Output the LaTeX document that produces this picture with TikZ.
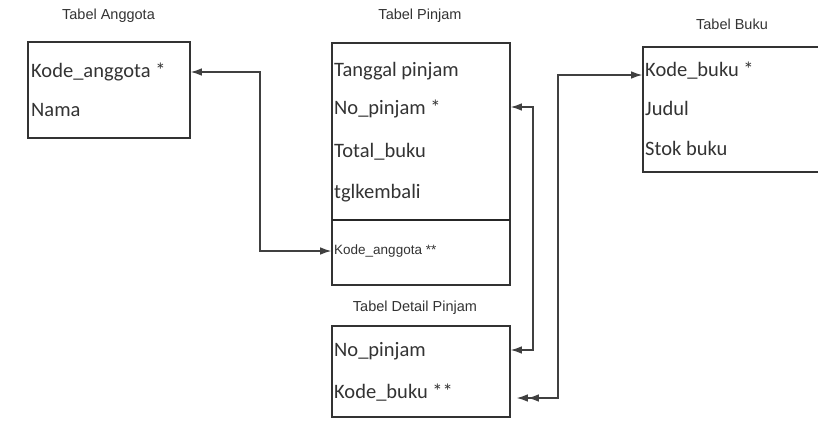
\documentclass[tikz,border=0pt]{standalone}
\usepackage{fontspec}
\setmainfont{Carlito}
\newfontfamily\arialf{Liberation Sans}
\usetikzlibrary{arrows.meta}
\begin{document}
\begin{tikzpicture}[x=1pt,y=-1pt,
  tbl/.style={draw=black!80,line width=1.6pt,inner sep=0pt,fill=white},
  row/.style={anchor=west,inner sep=0pt,font=\fontsize{20.5}{24}\selectfont,text=black!80,text height=14pt,text depth=4pt},
  ttl/.style={inner sep=0pt,font=\arialf\fontsize{14.5}{17}\selectfont,text=black!80},
  small/.style={anchor=west,inner sep=0pt,font=\arialf\fontsize{13.5}{16}\selectfont,text=black!80},
  conn/.style={draw=black!75,line width=1.1pt},
  >={Latex[length=11pt,width=7.5pt]},
]
\useasboundingbox (0,0) rectangle (818,426);
% boxes
\node[tbl,minimum width=162pt,minimum height=96pt] (anggota) at (109,90) {};
\node[tbl,minimum width=178pt,minimum height=242pt] (pinjam) at (421,164) {};
\node[tbl,minimum width=187pt,minimum height=125pt] (buku) at (736.5,109.5) {};
\node[tbl,minimum width=178pt,minimum height=91pt] (detail) at (421,371.5) {};
\coordinate (divL) at (332,220);
\coordinate (divR) at (510,220);
\draw[draw=black!85,line width=2.4pt] (divL) -- (divR);
% titles
\node[ttl] (tAnggota) at (108.5,16) {Tabel Anggota};
\node[ttl] (tPinjam) at (420,16) {Tabel Pinjam};
\node[ttl] (tBuku) at (732,24) {Tabel Buku};
\node[ttl] (tDetail) at (415,307.5) {Tabel Detail Pinjam};
% rows
\node[row] (aKode) at (31,72) {Kode\_anggota *};
\node[row] (aNama) at (31,111) {Nama};
\node[row] (pTgl) at (334,71) {Tanggal pinjam};
\node[row] (pNo) at (334,109) {No\_pinjam *};
\node[row] (pTot) at (334,152) {Total\_buku};
\node[row] (pKem) at (334,193) {tglkembali};
\node[small] (pAng) at (334,251) {Kode\_anggota **};
\node[row] (bKode) at (645,71) {Kode\_buku *};
\node[row] (bJud) at (645,110) {Judul};
\node[row] (bStok) at (645,150) {Stok buku};
\node[row] (dNo) at (334,351) {No\_pinjam};
\node[row] (dKode) at (334,393) {Kode\_buku **};
% connector bends
\coordinate (j1) at (260,72);
\coordinate (j2) at (260,251);
\coordinate (k1) at (533,107);
\coordinate (k2) at (533,350);
\coordinate (m1) at (558,75);
\coordinate (m2) at (558,398);
% connectors
\draw[conn,<->] (anggota.east |- j1) -- (j1) -- (j2) -- (pinjam.west |- j2);
\draw[conn,<->] (pinjam.east |- k1) -- (k1) -- (k2) -- (detail.east |- k2);
\draw[conn,{Latex[length=11pt,width=7.5pt,sep=6pt]Latex[length=11pt,width=7.5pt]}-{Latex[length=11pt,width=7.5pt]}] (detail.east |- m2) -- (m2) -- (m1) -- (buku.west |- m1);
\end{tikzpicture}
\end{document}
